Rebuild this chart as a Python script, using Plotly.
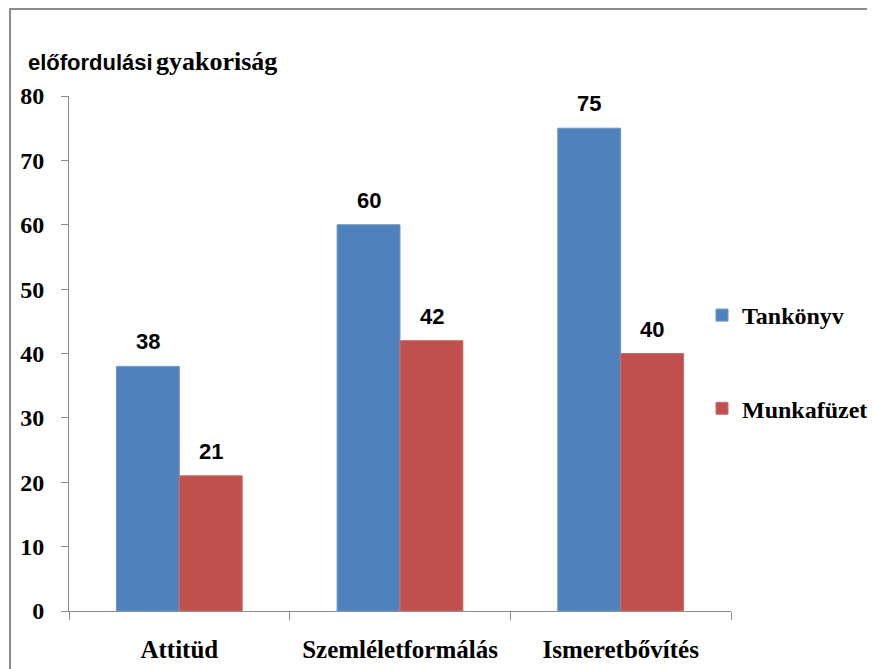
import plotly.graph_objects as go

categories = ["Attitüd", "Szemléletformálás", "Ismeretbővítés"]
tankonyv = [38, 60, 75]
munkafuzet = [21, 42, 40]
series_names = ["Tankönyv", "Munkafüzet"]
y_ticks = [0, 10, 20, 30, 40, 50, 60, 70, 80]

OFF = 8  # page body margin
W, H = 920, 669
L, T = 69 - OFF, 96 - OFF
pw, ph = 662, 515
R = W - L - pw
B = H - T - ph

def px_x(x):
    return (x - OFF - L) / pw

def px_y(y):
    return (T + ph - (y - OFF)) / ph

serif = "Liberation Serif, Times New Roman, serif"
sans = "Liberation Sans, Arial, sans-serif"

fig = go.Figure()
fig.add_trace(go.Bar(
    x=categories, y=tankonyv, name=series_names[0], legendgroup="a",
    marker=dict(color="#4F81BD", line=dict(color="#6C95C9", width=1)),
))
fig.add_trace(go.Bar(
    x=categories, y=munkafuzet, name=series_names[1], legendgroup="b",
    marker=dict(color="#C0504D", line=dict(color="#CB6E6B", width=1)),
))

annotations = []
for vals, shift in ((tankonyv, -31.5), (munkafuzet, 31.5)):
    for c, v in zip(categories, vals):
        annotations.append(dict(
            x=c, y=v, xref="x", yref="y", xshift=shift, yshift=10,
            xanchor="center", yanchor="bottom", showarrow=False,
            text=str(v), font=dict(family=sans, size=22, color="#000000", weight="bold"),
        ))
annotations.append(dict(
    xref="paper", yref="paper", x=px_x(26), y=px_y(62),
    xanchor="left", yanchor="middle", showarrow=False,
    text=('<span style="font-family:Liberation Sans;font-size:22px">előfordulási</span> '
          '<span style="font-family:Liberation Serif;font-size:26px">gyakoriság</span>'),
    font=dict(color="#000000", weight="bold", family=sans),
))

fig.update_layout(
    width=W, height=H,
    margin=dict(l=L, r=R, t=T, b=B, pad=0),
    paper_bgcolor="white", plot_bgcolor="white",
    barmode="group", bargap=0.43, bargroupgap=0,
    showlegend=True,
    legend=dict(
        x=px_x(702), y=px_y(293), xanchor="left", yanchor="top",
        font=dict(family=serif, size=24, color="#000000", weight="bold"),
        tracegroupgap=59, bgcolor="rgba(0,0,0,0)",
    ),
    xaxis=dict(
        showline=True, linecolor="#8C8C8C", linewidth=1,
        ticks="outside", tickson="boundaries", ticklen=8, tickcolor="#8C8C8C",
        tickfont=dict(family=serif, size=25, color="#000000", weight="bold"),
        showgrid=False, zeroline=False, ticklabelstandoff=16, automargin=False,
    ),
    yaxis=dict(
        range=[0, 80], tickvals=y_ticks,
        showline=True, linecolor="#8C8C8C", linewidth=1,
        ticks="outside", ticklen=7, tickcolor="#8C8C8C",
        tickfont=dict(family=serif, size=24, color="#000000", weight="bold"),
        showgrid=False, zeroline=False, ticklabelstandoff=12, automargin=False,
    ),
    shapes=[dict(
        type="rect", xref="paper", yref="paper",
        x0=px_x(10), x1=px_x(960), y0=px_y(720), y1=px_y(9),
        line=dict(color="#8C8C8C", width=2), fillcolor="rgba(0,0,0,0)",
        layer="below",
    )],
    annotations=annotations,
)

fig.write_html("out.html")
